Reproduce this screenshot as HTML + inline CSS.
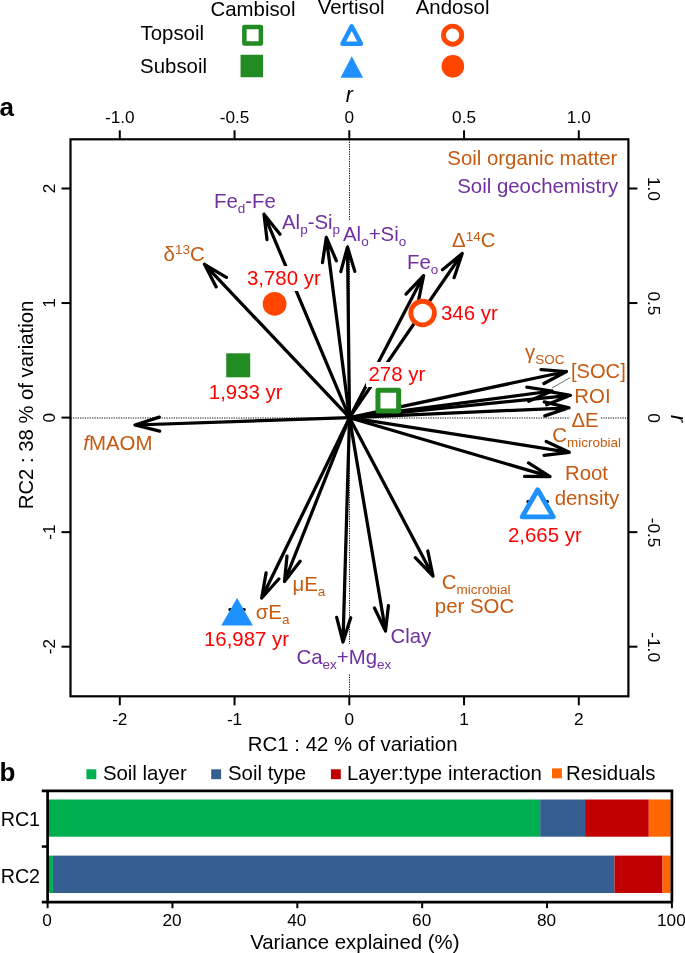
<!DOCTYPE html><html><head><meta charset="utf-8"><style>html,body{margin:0;padding:0;background:#fff}svg{display:block;will-change:transform}text{font-family:"Liberation Sans",sans-serif}</style></head><body>
<svg width="685" height="953" viewBox="0 0 685 953">
<rect width="685" height="953" fill="#fff"/>
<defs><filter id="wb" x="-0.03" y="-0.05" width="1.06" height="1.1"><feFlood flood-color="#fff"/></filter></defs>
<text x="253" y="15.5" font-size="20.4" fill="#000" text-anchor="middle" >Cambisol</text>
<text x="351.2" y="14.3" font-size="20.4" fill="#000" text-anchor="middle" >Vertisol</text>
<text x="452.6" y="14.3" font-size="20.4" fill="#000" text-anchor="middle" >Andosol</text>
<text x="204" y="39.8" font-size="20.4" fill="#000" text-anchor="end" >Topsoil</text>
<text x="207" y="73" font-size="20.4" fill="#000" text-anchor="end" >Subsoil</text>
<rect x="244.35" y="26.950000000000003" width="16.5" height="16.5" fill="#fff" stroke="#228b22" stroke-width="4.5" stroke-linejoin="round"/>
<rect x="240.55" y="54.75" width="22.5" height="22.5" fill="#228b22"/>
<path d="M351.7,26.299999999999997 L360.95,43.8 L342.45,43.8 Z" fill="#fff" stroke="#1e90ff" stroke-width="4.5" stroke-linejoin="round"/>
<path d="M351.8,56.2 L363.1,77.8 L340.5,77.8 Z" fill="#1e90ff"/>
<circle cx="452.6" cy="35.2" r="9.08" fill="#fff" stroke="#ff4500" stroke-width="4.95"/>
<circle cx="452.85" cy="66.35" r="11.3" fill="#ff4500"/>
<text x="-0.5" y="116.3" font-size="26" fill="#000" text-anchor="start" font-weight="bold">a</text>
<text x="-0.5" y="781" font-size="26" fill="#000" text-anchor="start" font-weight="bold">b</text>
<line x1="70.5" y1="418" x2="628.4" y2="418" stroke="#000" stroke-width="1" stroke-dasharray="1.2,1.2"/>
<line x1="349.5" y1="139.3" x2="349.5" y2="696.3" stroke="#000" stroke-width="1" stroke-dasharray="1.2,1.2"/>
<line x1="119.80000000000001" y1="696.3" x2="119.80000000000001" y2="705.3" stroke="#000" stroke-width="2"/>
<text x="119.80000000000001" y="725.3" font-size="17.2" fill="#000" text-anchor="middle" >-2</text>
<line x1="70.5" y1="646.7" x2="61.5" y2="646.7" stroke="#000" stroke-width="2"/>
<text transform="translate(54.7,646.7) rotate(-90)" font-size="17.2" text-anchor="middle">-2</text>
<line x1="234.55" y1="696.3" x2="234.55" y2="705.3" stroke="#000" stroke-width="2"/>
<text x="234.55" y="725.3" font-size="17.2" fill="#000" text-anchor="middle" >-1</text>
<line x1="70.5" y1="532.15" x2="61.5" y2="532.15" stroke="#000" stroke-width="2"/>
<text transform="translate(54.7,532.15) rotate(-90)" font-size="17.2" text-anchor="middle">-1</text>
<line x1="349.3" y1="696.3" x2="349.3" y2="705.3" stroke="#000" stroke-width="2"/>
<text x="349.3" y="725.3" font-size="17.2" fill="#000" text-anchor="middle" >0</text>
<line x1="70.5" y1="417.6" x2="61.5" y2="417.6" stroke="#000" stroke-width="2"/>
<text transform="translate(54.7,417.6) rotate(-90)" font-size="17.2" text-anchor="middle">0</text>
<line x1="464.05" y1="696.3" x2="464.05" y2="705.3" stroke="#000" stroke-width="2"/>
<text x="464.05" y="725.3" font-size="17.2" fill="#000" text-anchor="middle" >1</text>
<line x1="70.5" y1="303.05" x2="61.5" y2="303.05" stroke="#000" stroke-width="2"/>
<text transform="translate(54.7,303.05) rotate(-90)" font-size="17.2" text-anchor="middle">1</text>
<line x1="578.8" y1="696.3" x2="578.8" y2="705.3" stroke="#000" stroke-width="2"/>
<text x="578.8" y="725.3" font-size="17.2" fill="#000" text-anchor="middle" >2</text>
<line x1="70.5" y1="188.50000000000003" x2="61.5" y2="188.50000000000003" stroke="#000" stroke-width="2"/>
<text transform="translate(54.7,188.50000000000003) rotate(-90)" font-size="17.2" text-anchor="middle">2</text>
<line x1="119.80000000000001" y1="139.3" x2="119.80000000000001" y2="130.3" stroke="#000" stroke-width="2"/>
<text x="119.80000000000001" y="123.4" font-size="17.2" fill="#000" text-anchor="middle" >-1.0</text>
<line x1="628.4" y1="646.7" x2="637.4" y2="646.7" stroke="#000" stroke-width="2"/>
<text transform="translate(647.5,647.1) rotate(90)" font-size="17.3" text-anchor="middle">-1.0</text>
<line x1="234.55" y1="139.3" x2="234.55" y2="130.3" stroke="#000" stroke-width="2"/>
<text x="234.55" y="123.4" font-size="17.2" fill="#000" text-anchor="middle" >-0.5</text>
<line x1="628.4" y1="532.15" x2="637.4" y2="532.15" stroke="#000" stroke-width="2"/>
<text transform="translate(647.5,532.55) rotate(90)" font-size="17.3" text-anchor="middle">-0.5</text>
<line x1="349.3" y1="139.3" x2="349.3" y2="130.3" stroke="#000" stroke-width="2"/>
<text x="349.3" y="123.4" font-size="17.2" fill="#000" text-anchor="middle" >0</text>
<text transform="translate(647.5,418.0) rotate(90)" font-size="17.3" text-anchor="middle">0</text>
<line x1="464.05" y1="139.3" x2="464.05" y2="130.3" stroke="#000" stroke-width="2"/>
<text x="464.05" y="123.4" font-size="17.2" fill="#000" text-anchor="middle" >0.5</text>
<line x1="628.4" y1="303.05" x2="637.4" y2="303.05" stroke="#000" stroke-width="2"/>
<text transform="translate(647.5,303.45) rotate(90)" font-size="17.3" text-anchor="middle">0.5</text>
<line x1="578.8" y1="139.3" x2="578.8" y2="130.3" stroke="#000" stroke-width="2"/>
<text x="578.8" y="123.4" font-size="17.2" fill="#000" text-anchor="middle" >1.0</text>
<line x1="628.4" y1="188.50000000000003" x2="637.4" y2="188.50000000000003" stroke="#000" stroke-width="2"/>
<text transform="translate(647.5,188.90000000000003) rotate(90)" font-size="17.3" text-anchor="middle">1.0</text>
<text x="349.3" y="101.5" font-size="21.3" fill="#000" text-anchor="middle" font-style="italic">r</text>
<text transform="translate(670.5,418.6) rotate(90)" font-size="21.3" text-anchor="middle" font-style="italic">r</text>
<text x="352.7" y="751.3" font-size="20.4" fill="#000" text-anchor="middle" >RC1 : 42 % of variation</text>
<text transform="translate(32.6,405) rotate(-90)" font-size="20.3" text-anchor="middle">RC2 : 38 % of variation</text>
<text x="617.3" y="165.3" font-size="20.4" fill="#fff" text-anchor="end" filter="url(#wb)">Soil organic matter</text>
<text x="618.2" y="192.6" font-size="20.4" fill="#fff" text-anchor="end" filter="url(#wb)">Soil geochemistry</text>
<text x="214" y="208" font-size="20.4" fill="#fff" text-anchor="start" filter="url(#wb)">Fe<tspan font-size="13.5" dy="5">d</tspan><tspan dy="-5" font-size="20.4">&#8203;</tspan>-Fe</text>
<text x="282" y="229" font-size="20.4" fill="#fff" text-anchor="start" filter="url(#wb)">Al<tspan font-size="13.5" dy="5">p</tspan><tspan dy="-5" font-size="20.4">&#8203;</tspan>-Si<tspan font-size="13.5" dy="5">p</tspan><tspan dy="-5" font-size="20.4">&#8203;</tspan></text>
<text x="343" y="240.6" font-size="20.4" fill="#fff" text-anchor="start" filter="url(#wb)">Al<tspan font-size="13.5" dy="5">o</tspan><tspan dy="-5" font-size="20.4">&#8203;</tspan>+Si<tspan font-size="13.5" dy="5">o</tspan><tspan dy="-5" font-size="20.4">&#8203;</tspan></text>
<text x="407" y="269" font-size="20.4" fill="#fff" text-anchor="start" filter="url(#wb)">Fe<tspan font-size="13.5" dy="5">o</tspan><tspan dy="-5" font-size="20.4">&#8203;</tspan></text>
<text x="452" y="247" font-size="20.4" fill="#fff" text-anchor="start" filter="url(#wb)">Δ<tspan font-size="13.5" dy="-6.2">14</tspan><tspan dy="6.2" font-size="20.4">&#8203;</tspan>C</text>
<text x="163.6" y="260.6" font-size="20.4" fill="#fff" text-anchor="start" filter="url(#wb)">δ<tspan font-size="13.5" dy="-6.2">13</tspan><tspan dy="6.2" font-size="20.4">&#8203;</tspan>C</text>
<text x="83.3" y="449.6" font-size="20.4" fill="#fff" text-anchor="start" filter="url(#wb)"><tspan font-style="italic">f</tspan>MAOM</text>
<text x="525" y="358.6" font-size="20.4" fill="#fff" text-anchor="start" filter="url(#wb)">γ<tspan font-size="13.5" dy="5">SOC</tspan><tspan dy="-5" font-size="20.4">&#8203;</tspan></text>
<text x="571" y="378" font-size="20.1" fill="#fff" text-anchor="start" filter="url(#wb)">[SOC]</text>
<text x="574.3" y="403" font-size="20.4" fill="#fff" text-anchor="start" filter="url(#wb)">ROI</text>
<text x="571.5" y="427" font-size="20.4" fill="#fff" text-anchor="start" filter="url(#wb)">ΔE</text>
<text x="552.3" y="442" font-size="20.4" fill="#fff" text-anchor="start" filter="url(#wb)">C<tspan font-size="13.5" dy="5">microbial</tspan><tspan dy="-5" font-size="20.4">&#8203;</tspan></text>
<text x="586.5" y="480" font-size="20.4" fill="#fff" text-anchor="middle" filter="url(#wb)">Root</text>
<text x="587" y="504.5" font-size="20.4" fill="#fff" text-anchor="middle" filter="url(#wb)">density</text>
<text x="441.7" y="588.5" font-size="20.4" fill="#fff" text-anchor="start" filter="url(#wb)">C<tspan font-size="13.5" dy="5">microbial</tspan><tspan dy="-5" font-size="20.4">&#8203;</tspan></text>
<text x="474.5" y="613" font-size="20.4" fill="#fff" text-anchor="middle" filter="url(#wb)">per SOC</text>
<text x="390.5" y="642.5" font-size="20.4" fill="#fff" text-anchor="start" filter="url(#wb)">Clay</text>
<text x="296.5" y="663.8" font-size="20.4" fill="#fff" text-anchor="start" filter="url(#wb)">Ca<tspan font-size="13.5" dy="5">ex</tspan><tspan dy="-5" font-size="20.4">&#8203;</tspan>+Mg<tspan font-size="13.5" dy="5">ex</tspan><tspan dy="-5" font-size="20.4">&#8203;</tspan></text>
<text x="292.5" y="591" font-size="20.4" fill="#fff" text-anchor="start" filter="url(#wb)">μE<tspan font-size="13.5" dy="5">a</tspan><tspan dy="-5" font-size="20.4">&#8203;</tspan></text>
<text x="255.7" y="618.7" font-size="20.4" fill="#fff" text-anchor="start" filter="url(#wb)">σE<tspan font-size="13.5" dy="5">a</tspan><tspan dy="-5" font-size="20.4">&#8203;</tspan></text>
<text x="617.3" y="165.3" font-size="20.4" fill="#c55a11" text-anchor="end" >Soil organic matter</text>
<text x="618.2" y="192.6" font-size="20.4" fill="#7030a0" text-anchor="end" >Soil geochemistry</text>
<text x="214" y="208" font-size="20.4" fill="#7030a0" text-anchor="start" >Fe<tspan font-size="13.5" dy="5">d</tspan><tspan dy="-5" font-size="20.4">&#8203;</tspan>-Fe</text>
<text x="282" y="229" font-size="20.4" fill="#7030a0" text-anchor="start" >Al<tspan font-size="13.5" dy="5">p</tspan><tspan dy="-5" font-size="20.4">&#8203;</tspan>-Si<tspan font-size="13.5" dy="5">p</tspan><tspan dy="-5" font-size="20.4">&#8203;</tspan></text>
<text x="343" y="240.6" font-size="20.4" fill="#7030a0" text-anchor="start" >Al<tspan font-size="13.5" dy="5">o</tspan><tspan dy="-5" font-size="20.4">&#8203;</tspan>+Si<tspan font-size="13.5" dy="5">o</tspan><tspan dy="-5" font-size="20.4">&#8203;</tspan></text>
<text x="407" y="269" font-size="20.4" fill="#7030a0" text-anchor="start" >Fe<tspan font-size="13.5" dy="5">o</tspan><tspan dy="-5" font-size="20.4">&#8203;</tspan></text>
<text x="452" y="247" font-size="20.4" fill="#c55a11" text-anchor="start" >Δ<tspan font-size="13.5" dy="-6.2">14</tspan><tspan dy="6.2" font-size="20.4">&#8203;</tspan>C</text>
<text x="163.6" y="260.6" font-size="20.4" fill="#c55a11" text-anchor="start" >δ<tspan font-size="13.5" dy="-6.2">13</tspan><tspan dy="6.2" font-size="20.4">&#8203;</tspan>C</text>
<text x="83.3" y="449.6" font-size="20.4" fill="#c55a11" text-anchor="start" ><tspan font-style="italic">f</tspan>MAOM</text>
<text x="525" y="358.6" font-size="20.4" fill="#c55a11" text-anchor="start" >γ<tspan font-size="13.5" dy="5">SOC</tspan><tspan dy="-5" font-size="20.4">&#8203;</tspan></text>
<text x="571" y="378" font-size="20.1" fill="#c55a11" text-anchor="start" >[SOC]</text>
<text x="574.3" y="403" font-size="20.4" fill="#c55a11" text-anchor="start" >ROI</text>
<text x="571.5" y="427" font-size="20.4" fill="#c55a11" text-anchor="start" >ΔE</text>
<text x="552.3" y="442" font-size="20.4" fill="#c55a11" text-anchor="start" >C<tspan font-size="13.5" dy="5">microbial</tspan><tspan dy="-5" font-size="20.4">&#8203;</tspan></text>
<text x="586.5" y="480" font-size="20.4" fill="#c55a11" text-anchor="middle" >Root</text>
<text x="587" y="504.5" font-size="20.4" fill="#c55a11" text-anchor="middle" >density</text>
<text x="441.7" y="588.5" font-size="20.4" fill="#c55a11" text-anchor="start" >C<tspan font-size="13.5" dy="5">microbial</tspan><tspan dy="-5" font-size="20.4">&#8203;</tspan></text>
<text x="474.5" y="613" font-size="20.4" fill="#c55a11" text-anchor="middle" >per SOC</text>
<text x="390.5" y="642.5" font-size="20.4" fill="#7030a0" text-anchor="start" >Clay</text>
<text x="296.5" y="663.8" font-size="20.4" fill="#7030a0" text-anchor="start" >Ca<tspan font-size="13.5" dy="5">ex</tspan><tspan dy="-5" font-size="20.4">&#8203;</tspan>+Mg<tspan font-size="13.5" dy="5">ex</tspan><tspan dy="-5" font-size="20.4">&#8203;</tspan></text>
<text x="292.5" y="591" font-size="20.4" fill="#c55a11" text-anchor="start" >μE<tspan font-size="13.5" dy="5">a</tspan><tspan dy="-5" font-size="20.4">&#8203;</tspan></text>
<text x="255.7" y="618.7" font-size="20.4" fill="#c55a11" text-anchor="start" >σE<tspan font-size="13.5" dy="5">a</tspan><tspan dy="-5" font-size="20.4">&#8203;</tspan></text>
<path d="M349.5,417.7 L264.0,214.3 M280.0,234.2 L264.0,214.3 L267.0,239.6" fill="none" stroke="#000" stroke-width="3.25" stroke-linecap="round" stroke-linejoin="round"/>
<path d="M349.5,417.7 L326.3,237.4 M336.4,260.8 L326.3,237.4 L322.5,262.6" fill="none" stroke="#000" stroke-width="3.25" stroke-linecap="round" stroke-linejoin="round"/>
<path d="M349.5,417.7 L347.5,247.0 M354.8,271.4 L347.5,247.0 L340.8,271.6" fill="none" stroke="#000" stroke-width="3.25" stroke-linecap="round" stroke-linejoin="round"/>
<path d="M349.5,417.7 L423.6,275.6 M418.5,300.6 L423.6,275.6 L406.0,294.1" fill="none" stroke="#000" stroke-width="3.25" stroke-linecap="round" stroke-linejoin="round"/>
<path d="M349.5,417.7 L462.2,253.5 M454.1,277.7 L462.2,253.5 L442.5,269.7" fill="none" stroke="#000" stroke-width="3.25" stroke-linecap="round" stroke-linejoin="round"/>
<path d="M349.5,417.7 L204.5,264.3 M226.4,277.3 L204.5,264.3 L216.2,286.9" fill="none" stroke="#000" stroke-width="3.25" stroke-linecap="round" stroke-linejoin="round"/>
<path d="M349.5,417.7 L135.0,425.0 M159.3,417.1 L135.0,425.0 L159.7,431.2" fill="none" stroke="#000" stroke-width="3.25" stroke-linecap="round" stroke-linejoin="round"/>
<path d="M349.5,417.7 L566.4,371.5 M543.9,383.5 L566.4,371.5 L541.0,369.7" fill="none" stroke="#000" stroke-width="3.25" stroke-linecap="round" stroke-linejoin="round"/>
<path d="M349.5,417.7 L552.0,391.0 M528.6,401.2 L552.0,391.0 L526.8,387.2" fill="none" stroke="#000" stroke-width="3.25" stroke-linecap="round" stroke-linejoin="round"/>
<path d="M349.5,417.7 L570.4,395.3 M546.7,404.8 L570.4,395.3 L545.3,390.8" fill="none" stroke="#000" stroke-width="3.25" stroke-linecap="round" stroke-linejoin="round"/>
<path d="M349.5,417.7 L569.0,407.8 M544.8,415.9 L569.0,407.8 L544.2,401.9" fill="none" stroke="#000" stroke-width="3.25" stroke-linecap="round" stroke-linejoin="round"/>
<path d="M349.5,417.7 L569.3,452.3 M544.0,455.4 L569.3,452.3 L546.2,441.5" fill="none" stroke="#000" stroke-width="3.25" stroke-linecap="round" stroke-linejoin="round"/>
<path d="M349.5,417.7 L550.0,476.6 M524.5,476.4 L550.0,476.6 L528.5,462.9" fill="none" stroke="#000" stroke-width="3.25" stroke-linecap="round" stroke-linejoin="round"/>
<path d="M349.5,417.7 L433.0,576.0 M415.3,557.6 L433.0,576.0 L427.8,551.0" fill="none" stroke="#000" stroke-width="3.25" stroke-linecap="round" stroke-linejoin="round"/>
<path d="M349.5,417.7 L385.5,631.0 M374.5,608.0 L385.5,631.0 L388.4,605.7" fill="none" stroke="#000" stroke-width="3.25" stroke-linecap="round" stroke-linejoin="round"/>
<path d="M349.5,417.7 L343.0,642.0 M336.7,617.3 L343.0,642.0 L350.7,617.7" fill="none" stroke="#000" stroke-width="3.25" stroke-linecap="round" stroke-linejoin="round"/>
<path d="M349.5,417.7 L284.5,581.5 M287.0,556.1 L284.5,581.5 L300.1,561.3" fill="none" stroke="#000" stroke-width="3.25" stroke-linecap="round" stroke-linejoin="round"/>
<path d="M349.5,417.7 L261.7,598.0 M266.1,572.9 L261.7,598.0 L278.8,579.0" fill="none" stroke="#000" stroke-width="3.25" stroke-linecap="round" stroke-linejoin="round"/>
<line x1="570" y1="377.6" x2="552" y2="388" stroke="#333" stroke-width="0.7"/>
<rect x="70.5" y="139.3" width="557.9" height="557.0" fill="none" stroke="#000" stroke-width="2.2"/>
<text x="247" y="285.3" font-size="20.4" fill="#fff" text-anchor="start" filter="url(#wb)">3,780 yr</text>
<text x="208.8" y="399" font-size="20.4" fill="#fff" text-anchor="start" filter="url(#wb)">1,933 yr</text>
<text x="441" y="320" font-size="20.4" fill="#fff" text-anchor="start" filter="url(#wb)">346 yr</text>
<text x="368.5" y="381.2" font-size="20.4" fill="#fff" text-anchor="start" filter="url(#wb)">278 yr</text>
<text x="508" y="542.3" font-size="20.4" fill="#fff" text-anchor="start" filter="url(#wb)">2,665 yr</text>
<text x="204" y="645.5" font-size="20.4" fill="#fff" text-anchor="start" filter="url(#wb)">16,987 yr</text>
<text x="247" y="285.3" font-size="20.4" fill="#ff0000" text-anchor="start" >3,780 yr</text>
<text x="208.8" y="399" font-size="20.4" fill="#ff0000" text-anchor="start" >1,933 yr</text>
<text x="441" y="320" font-size="20.4" fill="#ff0000" text-anchor="start" >346 yr</text>
<text x="368.5" y="381.2" font-size="20.4" fill="#ff0000" text-anchor="start" >278 yr</text>
<text x="508" y="542.3" font-size="20.4" fill="#ff0000" text-anchor="start" >2,665 yr</text>
<text x="204" y="645.5" font-size="20.4" fill="#ff0000" text-anchor="start" >16,987 yr</text>
<path d="M229.8,609.6 H244.3 M527.8,501.5 H547.5" stroke="#000" stroke-width="3" stroke-linecap="round" fill="none"/>
<circle cx="274.6" cy="303.9" r="11.9" fill="#ff4500"/>
<rect x="226.2" y="353.3" width="24" height="24" fill="#228b22"/>
<circle cx="422.6" cy="313.05" r="11.8" fill="#fff" stroke="#ff4500" stroke-width="4.8"/>
<rect x="377.95" y="390.25" width="20.7" height="20.7" fill="#fff" stroke="#228b22" stroke-width="5" stroke-linejoin="round"/>
<path d="M537.7,489.8 L553.25,516.9 L522.1500000000001,516.9 Z" fill="#fff" stroke="#1e90ff" stroke-width="4.9" stroke-linejoin="round"/>
<path d="M237.1,598.0 L252.95,625.4000000000001 L221.25,625.4000000000001 Z" fill="#1e90ff"/>
<rect x="47.60" y="799.5" width="492.57" height="37.200000000000045" fill="#00b050"/>
<rect x="540.17" y="799.5" width="44.95" height="37.200000000000045" fill="#365f91"/>
<rect x="585.12" y="799.5" width="63.68" height="37.200000000000045" fill="#c00000"/>
<rect x="648.80" y="799.5" width="21.85" height="37.200000000000045" fill="#ff6600"/>
<rect x="47.60" y="855.6" width="5.31" height="37.39999999999998" fill="#00b050"/>
<rect x="52.91" y="855.6" width="561.56" height="37.39999999999998" fill="#365f91"/>
<rect x="614.46" y="855.6" width="48.07" height="37.39999999999998" fill="#c00000"/>
<rect x="662.54" y="855.6" width="8.12" height="37.39999999999998" fill="#ff6600"/>
<path d="M41.800000000000004,790.9 L671.9,790.9 L671.9,902.2 M41.800000000000004,902.2 L671.9,902.2 M47.6,790.9 L47.6,902.2" fill="none" stroke="#000" stroke-width="2.7"/>
<line x1="41.800000000000004" y1="846.55" x2="47.6" y2="846.55" stroke="#000" stroke-width="2.5"/>
<line x1="47.6" y1="902.2" x2="47.6" y2="908.2" stroke="#000" stroke-width="2"/>
<text x="47.1" y="925.7" font-size="17.2" fill="#000" text-anchor="middle" >0</text>
<line x1="172.45999999999998" y1="902.2" x2="172.45999999999998" y2="908.2" stroke="#000" stroke-width="2"/>
<text x="171.95999999999998" y="925.7" font-size="17.2" fill="#000" text-anchor="middle" >20</text>
<line x1="297.32" y1="902.2" x2="297.32" y2="908.2" stroke="#000" stroke-width="2"/>
<text x="296.82" y="925.7" font-size="17.2" fill="#000" text-anchor="middle" >40</text>
<line x1="422.18" y1="902.2" x2="422.18" y2="908.2" stroke="#000" stroke-width="2"/>
<text x="421.68" y="925.7" font-size="17.2" fill="#000" text-anchor="middle" >60</text>
<line x1="547.04" y1="902.2" x2="547.04" y2="908.2" stroke="#000" stroke-width="2"/>
<text x="546.54" y="925.7" font-size="17.2" fill="#000" text-anchor="middle" >80</text>
<line x1="671.9" y1="902.2" x2="671.9" y2="908.2" stroke="#000" stroke-width="2"/>
<text x="671.4" y="925.7" font-size="17.2" fill="#000" text-anchor="middle" >100</text>
<text x="0.7" y="825.9" font-size="19.7" fill="#000" text-anchor="start" >RC1</text>
<text x="0.7" y="882.5" font-size="19.7" fill="#000" text-anchor="start" >RC2</text>
<text x="354.8" y="948.5" font-size="20.4" fill="#000" text-anchor="middle" >Variance explained (%)</text>
<rect x="86.4" y="769.3" width="9.9" height="9.9" fill="#00b050"/>
<text x="102.9" y="780.4" font-size="20.4" fill="#000" text-anchor="start" >Soil layer</text>
<rect x="211.2" y="769.3" width="9.9" height="9.9" fill="#365f91"/>
<text x="228" y="780.4" font-size="20.4" fill="#000" text-anchor="start" >Soil type</text>
<rect x="330.9" y="769.3" width="9.9" height="9.9" fill="#c00000"/>
<text x="347" y="780.4" font-size="20.4" fill="#000" text-anchor="start" >Layer:type interaction</text>
<rect x="552" y="768.4" width="9.9" height="9.9" fill="#ff6600"/>
<text x="566" y="779.5" font-size="20.4" fill="#000" text-anchor="start" >Residuals</text>
</svg></body></html>
